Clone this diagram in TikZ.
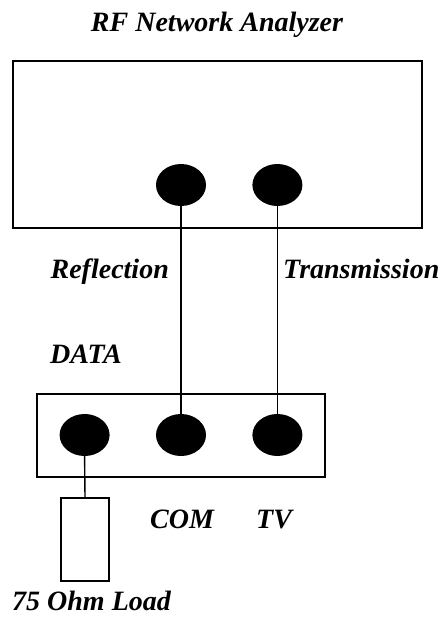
\documentclass[tikz,border=0pt]{standalone}
\usepackage{fontspec}
\setmainfont{Liberation Serif}
\usetikzlibrary{positioning,shapes.geometric}

\begin{document}
\begin{tikzpicture}[x=1pt,y=-1pt,
  box/.style={draw,line width=1.4pt,inner sep=0pt},
  port/.style={ellipse,fill=black,minimum width=50pt,minimum height=42pt,inner sep=0pt},
  lbl/.style={inner sep=0pt},
  wire/.style={line width=1.4pt},
  font=\fontsize{28}{32}\selectfont\bfseries\itshape]
\useasboundingbox (0,0) rectangle (443,617);
\node[lbl,anchor=base] (T) at (217,32) {RF Network Analyzer};
\node[box,minimum width=409pt,minimum height=167pt] (NA) at (217.5,144.5) {};
\node[port] (R) at (181,185) {};
\node[port,right=46pt of R] (X) {};
\node[box,minimum width=288pt,minimum height=83pt] (SW) at (181,435.5) {};
\node[port] (C) at (181,435) {};
\node[port,left=46pt of C] (D) {};
\node[port,right=46pt of C] (V) {};
\node[box,minimum width=48pt,minimum height=83pt] (L) at (85,539.5) {};
\draw[wire] (R.south) -- (C.north);
\draw[wire] (X.south) -- (V.north);
\draw[wire] (D.south) -- (L.north);
\node[lbl,anchor=base east] (RL) at (169,278) {Reflection};
\node[lbl,anchor=base west] (XL) at (283,278) {Transmission};
\node[lbl,anchor=base west] (DL) at (50,363) {DATA};
\node[lbl,anchor=base west] (CL) at (150,528) {COM};
\node[lbl,anchor=base west] (VL) at (256,528) {TV};
\node[lbl,anchor=base west] (LL) at (12,610) {75 Ohm Load};
\end{tikzpicture}
\end{document}
